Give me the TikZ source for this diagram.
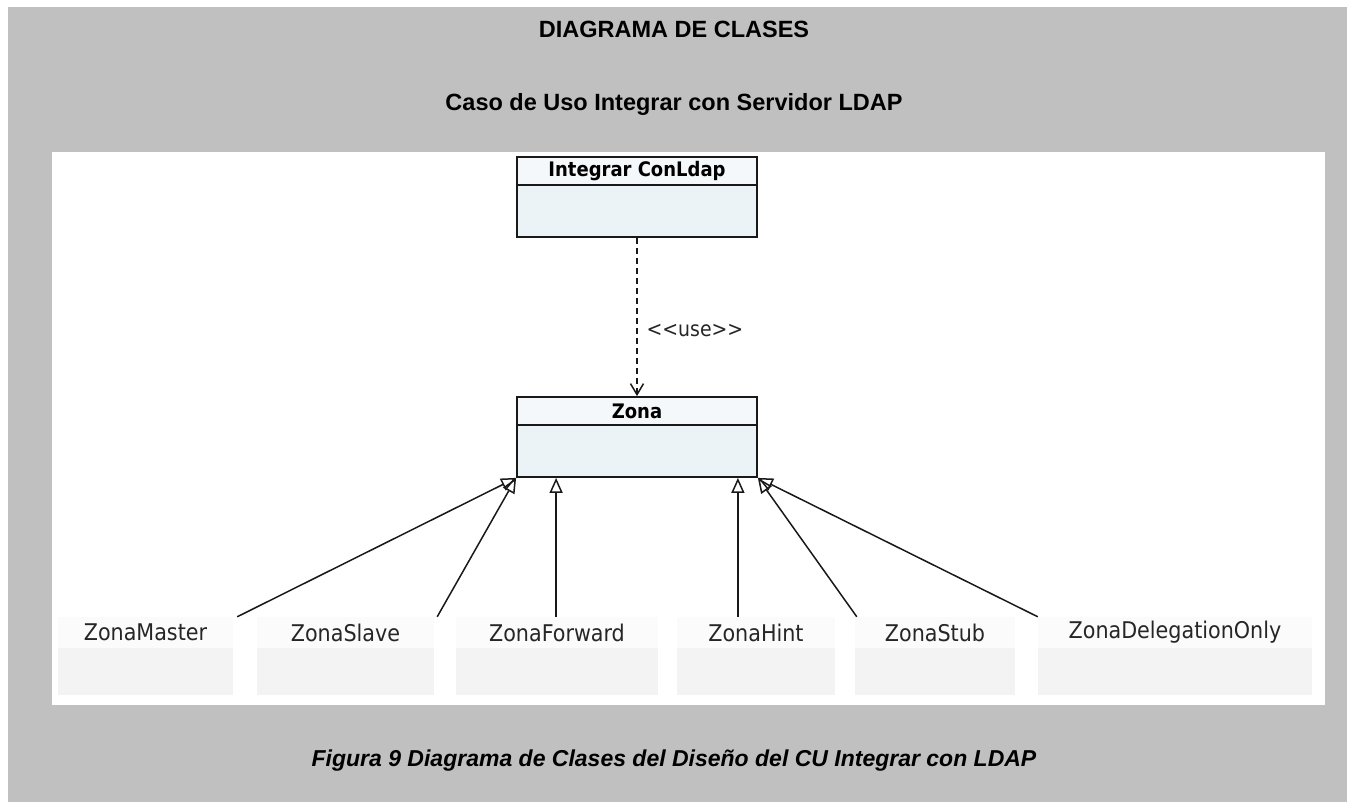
\documentclass[tikz,border=0pt]{standalone}
\usepackage{fontspec}
\setmainfont{Liberation Sans}
\newfontfamily\umlfont{DejaVu Sans Condensed}
\usetikzlibrary{arrows.meta,calc}
\definecolor{pagegray}{RGB}{192,192,192}
\definecolor{classfill}{RGB}{236,243,247}
\definecolor{headfill}{RGB}{244,248,251}
\definecolor{lineink}{RGB}{25,25,25}
\definecolor{ghosttop}{RGB}{251,251,251}
\definecolor{ghostbot}{RGB}{243,243,243}
\tikzset{
  x=1pt, y=-1pt,
  heading/.style={font=\fontsize{23.5}{26}\selectfont\bfseries, text=black},
  caption/.style={font=\fontsize{23}{26}\selectfont\bfseries\itshape, text=black},
  classbox/.style={draw=lineink, line width=1.8pt, fill=classfill, minimum width=240pt, inner sep=0pt},
  classhead/.style={draw=lineink, line width=1.8pt, fill=headfill, minimum width=240pt, minimum height=28pt, inner sep=0pt,
    font=\umlfont\bfseries\fontsize{20}{22}\selectfont},
  subname/.style={fill=ghosttop, minimum height=31pt, inner sep=0pt, font=\umlfont\fontsize{23}{25}\selectfont, text=black!85},
  subbody/.style={fill=ghostbot, minimum height=47pt, inner sep=0pt},
  inherit/.style={draw=lineink, line width=1.5pt, -{Triangle[open, length=15pt, width=13pt, line width=1.5pt]}},
  uses/.style={draw=lineink, line width=1.5pt, dash pattern=on 6pt off 4pt, -{Straight Barb[length=11pt, width=13pt, line width=1.5pt]}},
}
\begin{document}
\begin{tikzpicture}
  % page area and gray frame
  \useasboundingbox (0,0) rectangle (1347,802);
  \fill[white] (0,0) rectangle (1347,802);
  \fill[pagegray] (8,7) rectangle (1347,802);
  \fill[white] (52,152) rectangle (1325,705);

  % headings
  \node[heading] (title) at (674,29) {DIAGRAMA DE CLASES};
  \node[heading] (subtitle) at (674,104) {Caso de Uso Integrar con Servidor LDAP};
  \node[caption] (cap) at (674,761) {Figura 9 Diagrama de Clases del Diseño del CU Integrar con LDAP};

  % IntegrarConLdap class
  \node[classbox, minimum height=80pt] (icl) at (637,197) {};
  \node[classhead, anchor=north] (iclh) at (icl.north) {Integrar ConLdap};

  % Zona class
  \node[classbox, minimum height=80pt] (zona) at (637,437) {};
  \node[classhead, anchor=north] (zonah) at (zona.north) {Zona};

  % dependency
  \draw[uses] (icl.south) -- (zona.north);
  \node[anchor=west, font=\umlfont\fontsize{21}{23}\selectfont, text=black!85] (uselbl) at (643,331) {<{}<use>{}>};

  % subclasses (name compartment + empty body)
  \node[subname, minimum width=175pt] (zm) at (145.5,632.5) {ZonaMaster};
  \node[subbody, minimum width=175pt, anchor=north] (zmb) at (zm.south) {};
  \node[subname, minimum width=177pt] (zs) at (345.5,632.5) {ZonaSlave};
  \node[subbody, minimum width=177pt, anchor=north] (zsb) at (zs.south) {};
  \node[subname, minimum width=202pt] (zf) at (557,632.5) {ZonaForward};
  \node[subbody, minimum width=202pt, anchor=north] (zfb) at (zf.south) {};
  \node[subname, minimum width=158pt] (zh) at (756,632.5) {ZonaHint};
  \node[subbody, minimum width=158pt, anchor=north] (zhb) at (zh.south) {};
  \node[subname, minimum width=160pt] (zst) at (935,632.5) {ZonaStub};
  \node[subbody, minimum width=160pt, anchor=north] (zstb) at (zst.south) {};
  \node[subname, minimum width=274pt] (zd) at (1175,632.5) {ZonaDelegationOnly};
  \node[subbody, minimum width=274pt, anchor=north] (zdb) at (zd.south) {};

  % generalizations
  \coordinate (forwardTip) at ($(zona.south west)+(40pt,0)$);
  \coordinate (hintTip) at ($(zona.south east)+(-20pt,0)$);
  \draw[inherit] ($(zm.north east)+(4pt,0)$) -- (zona.south west);
  \draw[inherit] ($(zs.north east)+(3pt,0)$) -- (zona.south west);
  \draw[inherit] (forwardTip |- zf.north) -- (forwardTip);
  \draw[inherit] (hintTip |- zh.north) -- (hintTip);
  \draw[inherit] ($(zst.north west)+(2pt,0)$) -- (zona.south east);
  \draw[inherit] (zd.north west) -- (zona.south east);
\end{tikzpicture}
\end{document}
